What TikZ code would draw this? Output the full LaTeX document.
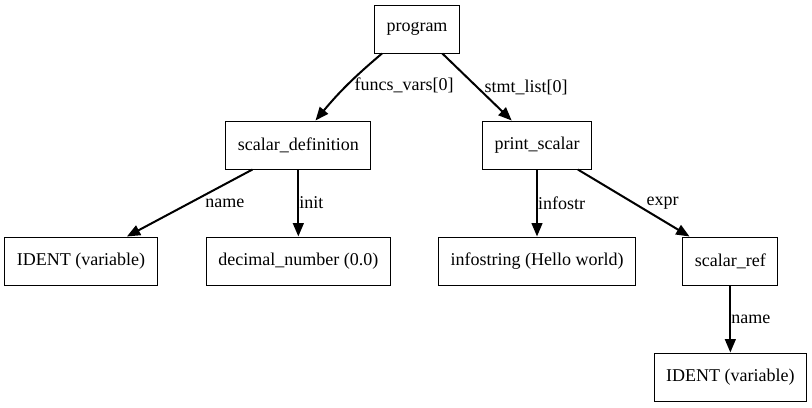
\documentclass[tikz,border=0pt]{standalone}
\usepackage{fontspec}
\setmainfont{Liberation Serif}
\usepackage{tikz}
\usetikzlibrary{arrows.meta}
\usetikzlibrary{positioning}
\tikzstyle{box} = [rectangle, draw=black, line width=0.75pt, minimum height=36pt, inner xsep=9pt, text centered, font=\fontsize{13.5}{16}\selectfont]
\tikzstyle{arrow} = [line width=1.5pt, -{Triangle[length=10pt, width=8pt]}]
\tikzstyle{edgeLabel} = [anchor=west, inner sep=0pt, font=\fontsize{13.5}{16}\selectfont]

\begin{document}
\begin{tikzpicture}[node distance = 87pt]
                            \useasboundingbox (0,0) rectangle (609pt,-305.25pt);
                            \node (program) [box] at (312.75pt,-21.75pt) {program};
                            \node (scalarDef) [box, below of=program, xshift = -89pt] {scalar\_definition};
                            \node (printScalar) [box, below of=program, xshift = 90pt] {print\_scalar};
                            \node (identA) [box, below of=scalarDef, xshift = -163pt] {IDENT (variable)};
                            \node (decimal) [box, below of=scalarDef] {decimal\_number (0.0)};
                            \node (infostring) [box, below of=printScalar] {infostring (Hello world)};
                            \node (scalarRef) [box, below of=printScalar, xshift = 145pt] {scalar\_ref};
                            \node (identB) [box, below of=scalarRef] {IDENT (variable)};
                            \draw [arrow] (program.215) to [bend right=5] node [edgeLabel, xshift=5pt] {funcs\_vars[0]} (scalarDef.55);
                            \draw [arrow] (program) -- node [edgeLabel, xshift=5pt] {stmt\_list[0]} (printScalar);
                            \draw [arrow] (scalarDef) -- node [edgeLabel, xshift=11pt] {name} (identA);
                            \draw [arrow] (scalarDef) -- node [edgeLabel] {init} (decimal);
                            \draw [arrow] (printScalar) -- node [edgeLabel] {infostr} (infostring);
                            \draw [arrow] (printScalar) -- node [edgeLabel, xshift=9pt] {expr} (scalarRef);
                            \draw [arrow] (scalarRef) -- node [edgeLabel] {name} (identB);
                        \end{tikzpicture}
\end{document}
